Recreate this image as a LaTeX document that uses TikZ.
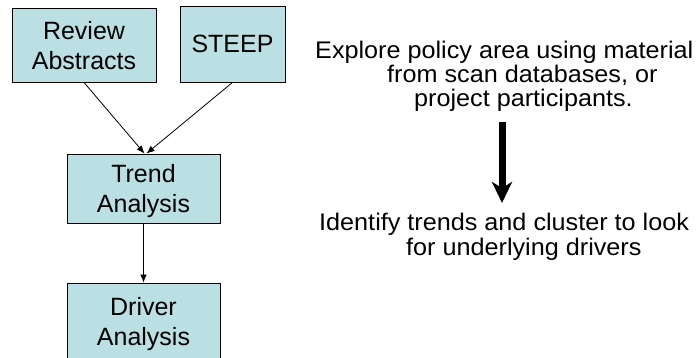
\documentclass[tikz,border=0pt]{standalone}
\usepackage{fontspec}
\setmainfont{Liberation Sans}
\newfontfamily\notefont[FakeStretch=1.05]{Liberation Sans}
\usetikzlibrary{arrows.meta}
\definecolor{boxfill}{RGB}{186,224,227}
\tikzset{
  stepbox/.style={draw=black, line width=0.9pt, fill=boxfill, inner sep=0pt,
    align=center, font=\fontsize{25}{30}\selectfont},
  flow/.style={line width=0.8pt, -{Latex[length=8pt,width=6.5pt]}},
  note/.style={anchor=base west, align=left, inner sep=0pt,
    font=\notefont\fontsize{24}{24.3}\selectfont},
  bigarrow/.style={line width=7pt, -{Stealth[length=21pt,width=20pt,inset=6pt]}}
}
\begin{document}
\begin{tikzpicture}[x=1pt, y=-1pt]
  \useasboundingbox (0,0) rectangle (698,358);
  \clip (0,0) rectangle (698,358);

  % process boxes (anchored at the baseline of the last line)
  \node[stepbox, anchor=base, minimum width=144pt, text height=62pt, text depth=12pt]
    (review) at (84,70) {Review\\Abstracts};
  \node[stepbox, anchor=base, minimum width=105pt, text height=47pt, text depth=29pt]
    (steep) at (232.5,53) {STEEP};
  \node[stepbox, anchor=base, minimum width=153pt, text height=58pt, text depth=11pt]
    (trend) at (143.5,212) {Trend\\Analysis};
  \node[stepbox, anchor=base, minimum width=153pt, text height=62pt, text depth=20pt]
    (driver) at (143.5,345) {Driver\\Analysis};

  % connectors
  \draw[flow] (review.south) -- ([xshift=1pt]trend.north);
  \draw[flow] (steep.south) -- ([xshift=3pt]trend.north);
  \draw[flow] (trend.south) -- (driver.north);

  % explanatory notes (anchored at the baseline of the last line)
  \node[note] (explore) at (315,107)
    {Explore policy area using material\\
     \hspace*{72pt}from scan databases, or\\
     \hspace*{99pt}project participants.};
  \node[note] (identify) at (319,255)
    {Identify trends and cluster to look\\
     \hspace*{87pt}for underlying drivers};

  % thick arrow between the notes
  \coordinate (bigTop) at (502,122);
  \coordinate (bigEnd) at (502,203);
  \draw[bigarrow] (bigTop) -- (bigEnd);
\end{tikzpicture}
\end{document}
